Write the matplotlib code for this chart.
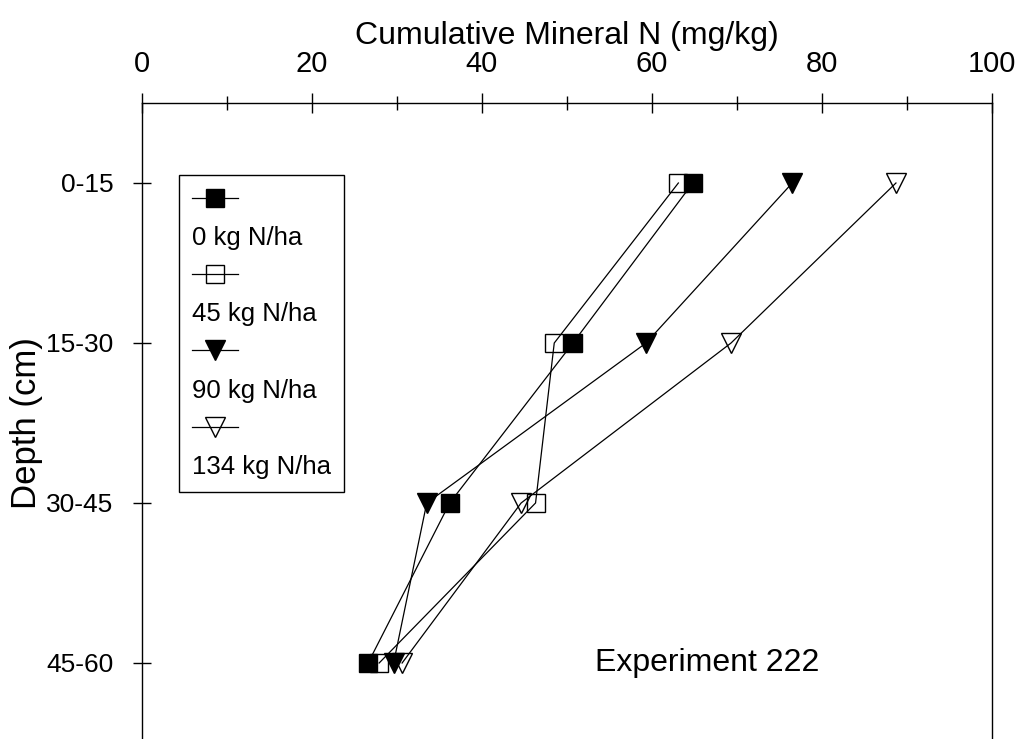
import matplotlib
matplotlib.use('Agg')
from matplotlib import pyplot as plt
from matplotlib.lines import Line2D

plt.rcParams['font.family'] = ['Liberation Sans', 'DejaVu Sans']

depths = ['0-15', '15-30', '30-45', '45-60']
rates = ['0 kg N/ha', '45 kg N/ha', '90 kg N/ha', '134 kg N/ha']

n_0 = [64.8, 50.7, 36.2, 26.6]
n_45 = [63.1, 48.5, 46.3, 27.9]
n_90 = [76.5, 59.3, 33.5, 29.6]
n_134 = [88.7, 69.3, 44.6, 30.6]

x_ticks = [0, 20, 40, 60, 80, 100]

series = [n_0, n_45, n_90, n_134]
styles = [dict(marker='s', ms=13, mfc='black'),
          dict(marker='s', ms=13, mfc='none'),
          dict(marker='v', ms=15, mfc='black'),
          dict(marker='v', ms=15, mfc='none')]

fig = plt.figure(figsize=(10.17, 7.39), dpi=100)
ax = fig.add_axes([142 / 1017, -4 / 739, 850 / 1017, 640 / 739])

ypos = list(range(len(depths)))
handles = []
for vals, st in zip(series, styles):
    h, = ax.plot(vals, ypos, color='black', lw=0.9, mec='black', mew=1.0,
                 clip_on=False, **st)
    handles.append(h)

ax.set_xlim(0, 100)
ax.set_ylim(3.5, -0.5)

ax.xaxis.tick_top()
ax.xaxis.set_label_position('top')
ax.set_xticks(x_ticks)
ax.set_xticks(range(10, 100, 20), minor=True)
ax.set_yticks(ypos)
ax.set_yticklabels(depths)
ax.tick_params(axis='x', which='major', direction='inout', length=14, width=1,
               labelsize=21, pad=11)
ax.tick_params(axis='x', which='minor', direction='inout', length=10, width=1)
ax.tick_params(axis='y', direction='inout', length=13, width=1, labelsize=19, pad=14)
for s in ax.spines.values():
    s.set_linewidth(1.0)

ax.set_xlabel('Cumulative Mineral N (mg/kg)', fontsize=23, labelpad=4)
ax.set_ylabel('Depth (cm)', fontsize=25, labelpad=2)

# legend: each marker on its own row, label on the row below it
blank = Line2D([], [], color='none')
leg_h, leg_l = [], []
for h, lab in zip(handles, rates):
    leg_h += [h, blank]
    leg_l += ['', lab]
leg = ax.legend(leg_h, leg_l, loc='upper left', bbox_to_anchor=(37 / 850, 568 / 640),
                borderaxespad=0, fontsize=18.5, handlelength=1.8, handletextpad=-1.8,
                labelspacing=0.55, fancybox=False, framealpha=1, edgecolor='black',
                borderpad=0.5)
leg.get_frame().set_linewidth(1.0)

ax.text(0.665, 80 / 640, 'Experiment 222', transform=ax.transAxes, fontsize=23,
        ha='center', va='center')

fig.savefig('out.png', dpi=100)
